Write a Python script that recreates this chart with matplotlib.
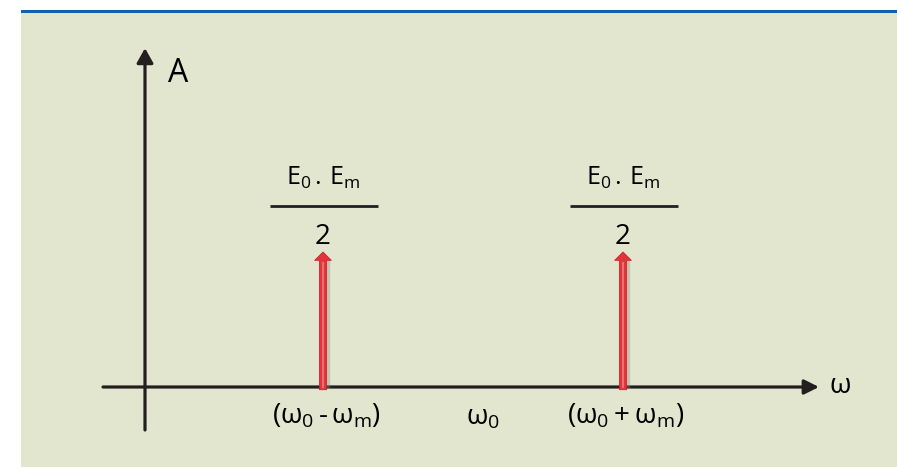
import matplotlib
matplotlib.use("Agg")
import matplotlib.pyplot as plt
from matplotlib.patches import Rectangle

plt.rcParams["font.family"] = ["Open Sans", "DejaVu Sans"]
plt.rcParams["mathtext.fontset"] = "custom"
plt.rcParams["mathtext.rm"] = "Open Sans"
plt.rcParams["mathtext.it"] = "Open Sans"
plt.rcParams["mathtext.default"] = "regular"

# Spectrum of an amplitude-modulated carrier (suppressed carrier, two side lines)
omega_0 = 3.28
omega_m = 1.5
line_freqs = [omega_0 - omega_m, omega_0 + omega_m]
line_amps = [1.0, 1.0]
line_labels = [r"$(\omega_0\,\text{-}\,\omega_m)$", r"$(\omega_0 + \omega_m)$"]
amp_label_num = r"$E_0\,.\,E_m$"
amp_label_den = "2"
carrier_label = r"$\omega_0$"
x_axis_label = r"$\omega$"
y_axis_label = "A"

BG = "#e3e6cf"
AXIS = "#231f20"
RED = "#e2343b"

fig = plt.figure(figsize=(8.97, 4.67), dpi=100)
fig.patch.set_facecolor("white")
W, H = 897, 467
fig.patches.append(Rectangle((21 / W, 0), 1 - 21 / W, (H - 13) / H,
                             transform=fig.transFigure, facecolor=BG,
                             edgecolor="none", zorder=-10))
fig.patches.append(Rectangle((21 / W, (H - 13) / H), 1 - 21 / W, 2.8 / H,
                             transform=fig.transFigure, facecolor="#1560ae",
                             edgecolor="none", zorder=-10))

ax = fig.add_axes([0, 0, 1, 1])
ax.set_xlim(-1.45, 7.52)
ax.set_ylim(-0.5926, 2.8667)
ax.axis("off")
ax.patch.set_alpha(0)

# axes with arrows
ax.annotate("", xy=(6.74, 0), xytext=(-0.42, 0),
            arrowprops=dict(arrowstyle="-|>,head_length=0.8,head_width=0.4",
                            lw=2.3, color=AXIS, shrinkA=0, shrinkB=0,
                            mutation_scale=11))
ax.annotate("", xy=(0, 2.51), xytext=(0, -0.3185),
            arrowprops=dict(arrowstyle="-|>,head_length=0.8,head_width=0.45",
                            lw=2.3, color=AXIS, shrinkA=0, shrinkB=0,
                            mutation_scale=11))

ax.text(0.23, 2.26, y_axis_label, fontsize=23, color="black",
        ha="left", va="baseline")
ax.text(6.84, -0.045, x_axis_label, fontsize=20, color="black",
        ha="left", va="baseline")

# spectral lines
for f, a in zip(line_freqs, line_amps):
    # soft shadow on the right side
    ax.plot([f + 0.05, f + 0.05], [-0.01, a - 0.06], color="#8a8a78",
            lw=2.5, alpha=0.35, solid_capstyle="butt", zorder=3)
    ax.annotate("", xy=(f, a), xytext=(f, -0.02),
                arrowprops=dict(arrowstyle="simple,head_length=0.6,head_width=1.2,tail_width=0.52",
                                lw=0.6, facecolor=RED, edgecolor="#c8252c",
                                shrinkA=0, shrinkB=0, mutation_scale=10),
                zorder=4)
    # light highlight along the shaft
    ax.plot([f - 0.004, f - 0.004], [-0.01, a - 0.075], color="#f07b80",
            lw=1.2, solid_capstyle="butt", zorder=5)

# amplitude labels (fraction above each line)
for f, a in zip(line_freqs, line_amps):
    ax.text(f, a + 0.50, amp_label_num, fontsize=18, ha="center",
            va="baseline", color="black")
    ax.plot([f - 0.535, f + 0.545], [a + 0.34, a + 0.34], color=AXIS,
            lw=2, solid_capstyle="butt")
    ax.text(f, a + 0.06, amp_label_den, fontsize=20, ha="center",
            va="baseline", color="black")

# frequency labels below the axis
for f, lab in zip(line_freqs, line_labels):
    ax.text(f + 0.03, -0.27, lab, fontsize=20, ha="center", va="baseline",
            color="black")
ax.text(omega_0 + 0.10, -0.28, carrier_label, fontsize=20, ha="center",
        va="baseline", color="black")

fig.savefig("out.png", dpi=100, facecolor="white")
